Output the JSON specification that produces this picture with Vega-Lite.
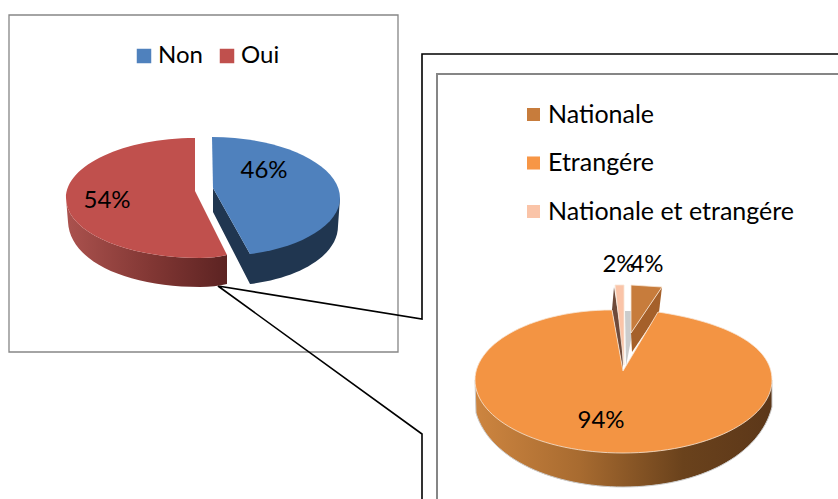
{
"$schema":"https://vega.github.io/schema/vega-lite/v6.json",
"width":838,"height":499,"padding":0,"autosize":{"type":"none"},"background":"white",
"config":{"view":{"stroke":null},"axis":{"disable":true},"font":"Lato"},
"data":{"values":[
{"graphique":"A","categorie":"Non","pct":0.46},
{"graphique":"A","categorie":"Oui","pct":0.54},
{"graphique":"B","categorie":"Nationale","pct":0.04},
{"graphique":"B","categorie":"Etrangére","pct":0.94},
{"graphique":"B","categorie":"Nationale et etrangére","pct":0.02}
]},
"resolve":{"scale":{"color":"independent","shape":"independent"}},
"layer":[
{"data":{"values":[{"k":1}]},"mark":{"type":"rect","fill":"white","stroke":"#868686","strokeWidth":1.3},
 "encoding":{"x":{"datum":9,"scale":{"domain":[0,838]}},"x2":{"datum":398},"y":{"datum":15,"scale":{"domain":[499,0]}},"y2":{"datum":352}}},
{"data":{"values":[{"k":1}]},"mark":{"type":"point","size":4,"opacity":1,"filled":false,"stroke":"#000000","strokeWidth":1.6,"shape":"M416,-231 L0,-231 L0,34 L-204,1 L0,149 L0,214"},
 "encoding":{"x":{"datum":422,"scale":{"domain":[0,838]}},"y":{"datum":285,"scale":{"domain":[499,0]}}}},
{"data":{"values":[{"k":1}]},"mark":{"type":"point","size":4,"opacity":1,"filled":false,"stroke":"#868686","strokeWidth":2,"shape":"M401,-211 L0,-211 L0,214"},
 "encoding":{"x":{"datum":437,"scale":{"domain":[0,838]}},"y":{"datum":285,"scale":{"domain":[499,0]}}}},
{"transform":[{"filter":"datum.categorie==='Oui'"}],
 "mark":{"type":"point","size":4,"opacity":1,"filled":true,"strokeWidth":0,"shape":"M-134,1 C-134,36 -72,61 0,61 Q15,61 27,58 L27,87 Q15,90 0,90 C-72,90 -130,65 -132,25 Z",
 "fill":{"x1":0,"y1":0,"x2":1,"y2":0,"gradient":"linear","stops":[{"offset":0,"color":"#ab524e"},{"offset":0.55,"color":"#803633"},{"offset":1,"color":"#5c2322"}]}},
 "encoding":{"x":{"datum":200,"scale":{"domain":[0,838]}},"y":{"datum":197,"scale":{"domain":[499,0]}}}},
{"transform":[{"filter":"datum.categorie==='Non'"}],
 "mark":{"type":"point","size":4,"opacity":1,"filled":true,"strokeWidth":0,"fill":"#203650","shape":"M13,-9 L13,15 L50,87 C100,81 138,58 138,29 L140,1 L50,57 Z"},
 "encoding":{"x":{"datum":200,"scale":{"domain":[0,838]}},"y":{"datum":197,"scale":{"domain":[499,0]}}}},
{"transform":[{"filter":"datum.graphique==='A'"}],
 "mark":{"type":"point","size":4,"opacity":1,"filled":true,"strokeWidth":0},
 "encoding":{"x":{"datum":200,"scale":{"domain":[0,838]}},"y":{"datum":197,"scale":{"domain":[499,0]}},
 "shape":{"field":"categorie","type":"nominal","legend":null,"scale":{"domain":["Non","Oui"],"range":["M13,-9 L12,-60 C83,-60 140,-32 140,1 C140,28 100,51 50,57 Z","M-5,-6 L-5,-59 C-76,-59 -134,-32 -134,1 C-134,36 -72,61 0,61 Q15,61 27,58 Z"]}},
 "color":{"field":"categorie","type":"nominal","legend":null,"scale":{"domain":["Non","Oui"],"range":["#4f81bd","#c0504d"]}}}},
{"transform":[{"filter":"datum.graphique==='A'"}],
 "mark":{"type":"square","size":0,"opacity":1},
 "encoding":{"x":{"datum":200,"scale":{"domain":[0,838]}},"y":{"datum":197,"scale":{"domain":[499,0]}},
 "color":{"field":"categorie","type":"nominal","scale":{"domain":["Non","Oui"],"range":["#4f81bd","#c0504d"]},
  "legend":{"title":null,"orient":"none","legendX":132,"legendY":44,"direction":"horizontal","columns":2,"columnPadding":12,"symbolType":"square","symbolSize":210,"symbolStrokeWidth":0,"labelFont":"Lato","labelFontSize":24,"labelColor":"#000000","labelOffset":2}}}},
{"transform":[{"filter":"datum.categorie==='Etrangére'"}],
 "mark":{"type":"point","size":4,"opacity":1,"filled":true,"stroke":"#cccccc","strokeWidth":1,"shape":"M-148,5 L-147,38 C-133,85 -68,112 0,112 C77,112 137,80 149,32 L149,5 Z",
 "fill":{"x1":0,"y1":0,"x2":1,"y2":0,"gradient":"linear","stops":[{"offset":0,"color":"#cd8540"},{"offset":0.35,"color":"#a86b30"},{"offset":0.7,"color":"#6a421c"},{"offset":1,"color":"#5c3719"}]}},
 "encoding":{"x":{"datum":623,"scale":{"domain":[0,838]}},"y":{"datum":375,"scale":{"domain":[499,0]}}}},
{"transform":[{"filter":"datum.categorie==='Nationale'"}],
 "mark":{"type":"point","size":4,"opacity":1,"filled":true,"strokeWidth":0,"fill":"#a5602a","shape":"M39,-88 L36,-63 L9,-23 L8,-42 Z"},
 "encoding":{"x":{"datum":623,"scale":{"domain":[0,838]}},"y":{"datum":375,"scale":{"domain":[499,0]}}}},
{"transform":[{"filter":"datum.categorie==='Nationale et etrangére'"}],
 "mark":{"type":"point","size":4,"opacity":1,"filled":true,"strokeWidth":0,"fill":"#6e4a3a","shape":"M-9,-88 L-11,-65 L0,-4 L-1,-35 Z"},
 "encoding":{"x":{"datum":623,"scale":{"domain":[0,838]}},"y":{"datum":375,"scale":{"domain":[499,0]}}}},
{"transform":[{"filter":"datum.categorie==='Nationale'"}],
 "mark":{"type":"point","size":4,"opacity":1,"filled":true,"strokeWidth":0,"fill":"#cbcccc","shape":"M2,-64 L8,-64 L8,-35 L3,-9 Z"},
 "encoding":{"x":{"datum":623,"scale":{"domain":[0,838]}},"y":{"datum":375,"scale":{"domain":[499,0]}}}},
{"transform":[{"filter":"datum.graphique==='B'"}],
 "mark":{"type":"point","size":4,"opacity":1,"filled":true,"stroke":"#f7e6d6","strokeWidth":0.8},
 "encoding":{"x":{"datum":623,"scale":{"domain":[0,838]}},"y":{"datum":375,"scale":{"domain":[499,0]}},
 "shape":{"field":"categorie","type":"nominal","legend":null,"sort":null,"scale":{"domain":["Nationale","Etrangére","Nationale et etrangére"],"range":["M8,-90 L39,-88 L8,-42 Z","M0,-4 L-11,-65 C-88,-65 -148,-33 -148,5 C-148,45 -83,78 0,78 C83,78 149,45 149,5 C149,-30 102,-53 35,-63 Z","M-8,-90 L1,-90 L1,-10 Z"]}},
 "color":{"field":"categorie","type":"nominal","legend":null,"sort":null,"scale":{"domain":["Nationale","Etrangére","Nationale et etrangére"],"range":["#c77c3c","#f39443","#fac4a8"]}}}},
{"transform":[{"filter":"datum.graphique==='B'"}],
 "mark":{"type":"square","size":0,"opacity":1},
 "encoding":{"x":{"datum":623,"scale":{"domain":[0,838]}},"y":{"datum":375,"scale":{"domain":[499,0]}},
 "color":{"field":"categorie","type":"nominal","sort":null,"scale":{"domain":["Nationale","Etrangére","Nationale et etrangére"],"range":["#c77c3c","#f79646","#fac4a8"]},
  "legend":{"title":null,"orient":"none","legendX":521,"legendY":102,"direction":"vertical","rowPadding":22.5,"symbolType":"square","symbolSize":170,"symbolStrokeWidth":0,"labelFont":"Lato","labelFontSize":25,"labelColor":"#000000","labelOffset":2,"labelLimit":400}}}},
{"transform":[{"filter":"datum.categorie==='Non'"}],"mark":{"type":"text","font":"Lato","fontSize":24,"color":"#000000"},
 "encoding":{"text":{"field":"pct","type":"quantitative","format":".0%"},"x":{"datum":264,"scale":{"domain":[0,838]}},"y":{"datum":171,"scale":{"domain":[499,0]}}}},
{"transform":[{"filter":"datum.categorie==='Oui'"}],"mark":{"type":"text","font":"Lato","fontSize":24,"color":"#000000"},
 "encoding":{"text":{"field":"pct","type":"quantitative","format":".0%"},"x":{"datum":107,"scale":{"domain":[0,838]}},"y":{"datum":201,"scale":{"domain":[499,0]}}}},
{"transform":[{"filter":"datum.categorie==='Etrangére'"}],"mark":{"type":"text","font":"Lato","fontSize":24,"color":"#000000"},
 "encoding":{"text":{"field":"pct","type":"quantitative","format":".0%"},"x":{"datum":601,"scale":{"domain":[0,838]}},"y":{"datum":421,"scale":{"domain":[499,0]}}}},
{"transform":[{"filter":"datum.categorie==='Nationale et etrangére'"}],"mark":{"type":"text","font":"Lato","fontSize":24,"color":"#000000"},
 "encoding":{"text":{"field":"pct","type":"quantitative","format":".0%"},"x":{"datum":619,"scale":{"domain":[0,838]}},"y":{"datum":265,"scale":{"domain":[499,0]}}}},
{"transform":[{"filter":"datum.categorie==='Nationale'"}],"mark":{"type":"text","font":"Lato","fontSize":24,"color":"#000000"},
 "encoding":{"text":{"field":"pct","type":"quantitative","format":".0%"},"x":{"datum":647,"scale":{"domain":[0,838]}},"y":{"datum":265,"scale":{"domain":[499,0]}}}}
]
}
